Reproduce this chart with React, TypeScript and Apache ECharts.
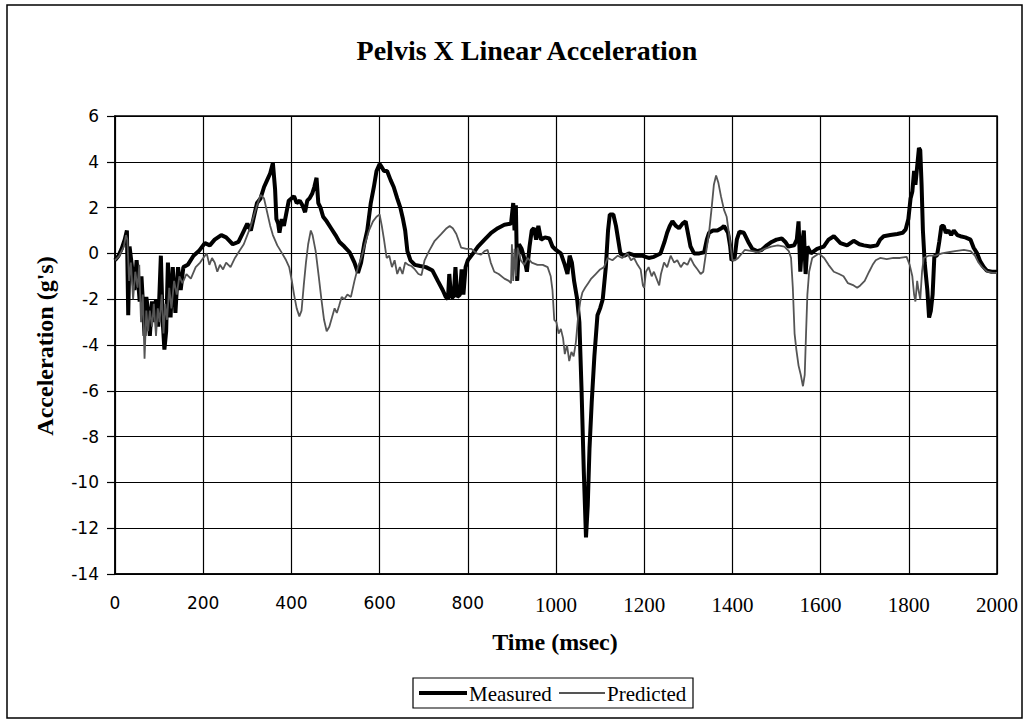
import React, { useEffect, useRef } from "react";
import * as echarts from "echarts";

const xTicks = [0, 200, 400, 600, 800, 1000, 1200, 1400, 1600, 1800, 2000];
const yTicks = [-14, -12, -10, -8, -6, -4, -2, 0, 2, 4, 6];
const seriesNames = ["Measured", "Predicted"];

const measuredT = [
  0, 8, 15, 22, 27, 30, 33, 38, 44, 49, 56, 60, 64, 67, 71, 75, 79, 84, 88, 93, 98, 104, 108, 112, 116, 120,
  126, 131, 137, 143, 149, 155, 165, 178, 190, 204, 215, 226, 241, 252, 267, 280, 290, 300, 308, 315, 322,
  330, 338, 345, 352, 358, 363, 366, 370, 373, 378, 383, 388, 394, 400, 406, 412, 419, 425, 431, 436, 441,
  447, 452, 457, 461, 466, 472, 480, 490, 500, 509, 520, 532, 543, 551, 558, 565, 572, 580, 587, 593, 600,
  604, 610, 617, 625, 632, 640, 647, 653, 658, 663, 670, 680, 692, 705, 720, 732, 743, 750, 755, 758, 762,
  768, 772, 776, 782, 786, 790, 795, 800, 812, 823, 838, 853, 868, 883, 898, 903, 906, 909, 912, 916, 922,
  928, 934, 940, 945, 950, 955, 960, 966, 975, 985, 992, 1000, 1011, 1020, 1026, 1031, 1036, 1041, 1048,
  1053, 1058, 1063, 1068, 1072, 1076, 1081, 1087, 1094, 1100, 1106, 1113, 1118, 1122, 1130, 1136, 1141,
  1146, 1155, 1165, 1180, 1195, 1210, 1222, 1237, 1246, 1252, 1258, 1264, 1272, 1279, 1287, 1294, 1300,
  1305, 1313, 1325, 1336, 1342, 1347, 1356, 1366, 1375, 1381, 1390, 1395, 1398, 1405, 1410, 1416, 1426,
  1436, 1445, 1456, 1466, 1478, 1489, 1500, 1512, 1520, 1527, 1540, 1546, 1550, 1554, 1558, 1562, 1566,
  1570, 1578, 1592, 1607, 1618, 1630, 1645, 1660, 1675, 1688, 1698, 1713, 1728, 1735, 1743, 1758, 1774,
  1786, 1793, 1799, 1804, 1808, 1812, 1815, 1819, 1823, 1826, 1829, 1832, 1836, 1842, 1846, 1850, 1854,
  1858, 1864, 1869, 1874, 1879, 1884, 1890, 1896, 1902, 1910, 1917, 1928, 1940, 1947, 1955, 1962, 1970,
  1977, 1988, 2000,
];
const measuredV = [
  -0.3, -0.1, 0.2, 0.6, 1.0, -2.7, 0.3, -0.5, -1.6, -0.3, -2.1, -1.0, -2.4, -3.6, -1.9, -2.5, -3.6, -2.1,
  -3.0, -2.0, -3.2, -0.1, -2.9, -4.2, -3.4, -0.4, -2.8, -0.6, -2.6, -0.6, -1.6, -0.6, -0.5, -0.1, 0.1, 0.45,
  0.35, 0.6, 0.8, 0.7, 0.4, 0.5, 0.9, 1.3, 1.0, 1.6, 2.2, 2.4, 2.9, 3.2, 3.5, 3.95, 2.8, 1.5, 1.3, 0.9, 1.5,
  1.2, 1.7, 2.3, 2.4, 2.5, 2.2, 2.3, 2.1, 1.8, 2.3, 2.4, 2.6, 2.9, 3.3, 2.2, 2.0, 1.6, 1.4, 1.1, 0.8, 0.5,
  0.3, 0.05, -0.4, -0.85, -0.4, 0.4, 1.0, 2.2, 2.9, 3.6, 3.9, 3.8, 3.6, 3.6, 3.2, 2.9, 2.4, 2.0, 1.5, 1.0,
  0.1, -0.3, -0.5, -0.55, -0.6, -0.75, -1.2, -1.6, -1.9, -2.0, -0.9, -1.9, -1.9, -0.6, -1.9, -1.8, -0.7,
  -1.8, -0.6, -0.3, 0.0, 0.3, 0.6, 0.9, 1.1, 1.25, 1.3, 2.2, 1.0, 2.1, -1.2, 0.4, 0.2, -0.2, -0.8, 0.3, 1.0,
  1.1, 0.6, 1.2, 0.6, 0.7, 0.65, 0.3, 0.15, 0.0, -0.5, -0.9, -0.1, -0.4, -1.2, -2.0, -3.0, -6.0, -9.5,
  -12.4, -11.0, -8.5, -6.5, -4.5, -2.7, -2.4, -2.0, -0.6, 1.0, 1.7, 1.7, 1.2, 0.6, 0.0, -0.1, 0.0, -0.1,
  -0.1, -0.2, -0.15, 0.0, 0.5, 0.9, 1.2, 1.4, 1.2, 1.1, 1.3, 1.4, 0.8, 0.3, 0.0, 0.0, 0.05, 0.6, 0.9, 1.0,
  1.0, 1.1, 1.2, 0.9, 0.3, -0.3, -0.2, 0.6, 0.95, 0.9, 0.5, 0.2, 0.1, 0.15, 0.35, 0.5, 0.6, 0.65, 0.5, 0.3,
  0.35, 0.6, 1.4, -0.8, 0.4, 1.0, -0.9, 0.3, 0.0, 0.2, 0.3, 0.6, 0.75, 0.45, 0.35, 0.55, 0.4, 0.35, 0.3,
  0.35, 0.6, 0.75, 0.8, 0.85, 0.9, 1.05, 1.5, 2.4, 2.7, 3.6, 3.0, 3.8, 4.6, 4.5, 3.0, 1.0, -0.4, -1.6,
  -2.8, -2.5, -1.8, -0.1, -0.1, 0.5, 1.2, 1.2, 0.9, 1.0, 0.8, 1.0, 0.8, 0.75, 0.7, 0.6, 0.25, 0.0, -0.35,
  -0.6, -0.75, -0.8, -0.8,
];

const predictedT = [
  0, 10, 20, 25, 28, 32, 36, 41, 46, 51, 55, 59, 63, 67, 71, 75, 79, 84, 88, 93, 97, 101, 106, 110, 114,
  118, 123, 128, 134, 140, 146, 153, 162, 172, 183, 193, 200, 208, 214, 220, 226, 232, 238, 245, 252, 262,
  272, 282, 292, 300, 308, 315, 322, 330, 338, 345, 352, 358, 368, 379, 388, 395, 401, 406, 412, 418, 423,
  428, 433, 438, 444, 448, 455, 462, 468, 474, 480, 486, 492, 498, 503, 508, 514, 520, 527, 535, 543, 551,
  560, 568, 576, 585, 593, 600, 605, 610, 616, 622, 628, 634, 640, 646, 652, 658, 665, 672, 680, 688, 695,
  702, 712, 725, 740, 752, 759, 766, 774, 785, 797, 808, 820, 830, 838, 845, 852, 860, 870, 883, 893, 898,
  900, 903, 906, 909, 913, 920, 928, 936, 945, 958, 970, 981, 988, 992, 996, 1001, 1006, 1011, 1016, 1020,
  1025, 1030, 1035, 1040, 1045, 1050, 1055, 1060, 1066, 1073, 1080, 1090, 1100, 1109, 1117, 1128, 1140,
  1150, 1162, 1170, 1177, 1185, 1192, 1197, 1200, 1204, 1210, 1217, 1222, 1228, 1234, 1238, 1245, 1252,
  1260, 1268, 1275, 1283, 1290, 1298, 1305, 1313, 1321, 1328, 1334, 1340, 1347, 1353, 1358, 1363, 1368,
  1374, 1381, 1387, 1392, 1396, 1400, 1406, 1413, 1428, 1445, 1458, 1473, 1488, 1503, 1518, 1528, 1533,
  1537, 1541, 1545, 1550, 1555, 1560, 1564, 1567, 1570, 1574, 1581, 1596, 1608, 1618, 1630, 1642, 1652,
  1662, 1675, 1683, 1690, 1700, 1710, 1718, 1725, 1735, 1750, 1765, 1780, 1795, 1802, 1808, 1812, 1815,
  1819, 1822, 1826, 1830, 1834, 1845, 1860, 1875, 1890, 1905, 1925, 1940, 1950, 1958, 1966, 1978, 1990,
  2000,
];
const predictedV = [
  -0.3, -0.1, 0.3, 0.8, 0.6, -1.2, -0.4, -2.0, -0.8, -1.5, -0.5, -3.0, -1.8, -4.6, -2.5, -3.4, -2.5, -3.2,
  -2.2, -3.6, -2.4, -3.0, -1.8, -3.5, -2.2, -2.9, -1.5, -2.4, -1.2, -1.8, -1.0, -1.3, -0.9, -1.1, -0.6,
  -0.4, -0.2, 0.0, -0.5, -0.2, -0.4, -0.8, -0.5, -0.7, -0.4, -0.6, -0.2, 0.1, 0.4, 0.8, 1.2, 1.65, 2.1,
  2.55, 2.4, 1.8, 1.2, 0.8, 0.35, 0.0, -0.3, -0.6, -1.2, -1.8, -2.4, -2.75, -2.5, -1.4, -0.4, 0.4, 1.0, 0.8,
  0.1, -1.0, -2.0, -2.9, -3.4, -3.2, -2.8, -2.4, -2.6, -2.3, -1.9, -2.0, -1.8, -1.9, -1.2, -0.6, -0.1, 0.5,
  1.0, 1.4, 1.6, 1.7, 1.2, 0.6, -0.2, -0.1, -0.6, -0.3, -0.9, -0.6, -0.9, -0.4, -0.5, -0.55, -0.7, -0.9,
  -0.95, -0.3, 0.1, 0.55, 0.85, 1.1, 1.2, 1.1, 0.85, 0.25, 0.2, 0.2, 0.0, -0.05, 0.1, 0.15, -0.4, -0.8,
  -0.9, -1.1, -1.2, -1.3, 0.4, -1.2, 0.2, -1.0, 0.25, -0.3, -0.5, -0.2, -0.4, -0.5, -0.5, -0.6, -1.0, -1.6,
  -2.9, -3.0, -3.5, -3.3, -3.7, -4.4, -4.0, -4.7, -4.3, -4.5, -3.9, -2.8, -2.1, -1.7, -1.5, -1.3, -1.1,
  -0.9, -0.7, -0.6, -0.2, -0.3, -0.1, -0.2, 0.0, -0.3, -0.2, -0.5, -0.7, -1.4, -1.5, -0.8, -0.6, -1.0, -0.8,
  -1.1, -1.4, -0.9, -0.4, -0.6, -0.1, -0.4, -0.3, -0.6, -0.4, -0.5, -0.2, -0.5, -0.7, -0.9, -0.8, 0.0, 0.9,
  2.0, 3.0, 3.4, 3.1, 2.5, 1.9, 1.6, 0.9, 0.3, -0.3, -0.3, -0.2, 0.15, 0.1, 0.05, 0.2, 0.3, 0.35, 0.3, 0.1,
  -0.2, -1.5, -3.5, -4.2, -4.9, -5.3, -5.8, -5.3, -3.5, -1.8, -0.8, -0.2, 0.0, -0.2, -0.5, -0.8, -0.9,
  -1.0, -1.3, -1.4, -1.5, -1.4, -1.2, -0.8, -0.5, -0.3, -0.2, -0.25, -0.2, -0.2, -0.15, -0.5, -1.0, -1.8,
  -2.1, -1.2, -1.6, -2.0, -0.8, -0.2, -0.1, -0.1, 0.0, 0.05, 0.1, 0.15, 0.1, -0.1, -0.4, -0.6, -0.8, -0.85,
  -0.85,
];

const serif = '"Liberation Serif", "Times New Roman", serif';
const sans = '"DejaVu Sans", Verdana, sans-serif';
const measuredColor = "#000000";
const predictedColor = "#555555";

export default function App() {
  const ref = useRef<HTMLDivElement>(null);
  useEffect(() => {
    if (!ref.current) return;
    const chart = echarts.init(ref.current, undefined, { renderer: "svg" });
    const option: any = {
      animation: false,
      backgroundColor: "#ffffff",
      grid: {
        left: 115,
        right: 32,
        top: 116,
        bottom: 147,
        show: true,
        borderColor: "#000",
        borderWidth: 1.5,
        backgroundColor: "transparent",
      },
      xAxis: {
        type: "value",
        min: xTicks[0],
        max: xTicks[xTicks.length - 1],
        interval: 200,
        axisLine: { show: true, onZero: false, lineStyle: { color: "#000", width: 1.5 } },
        axisTick: { show: false },
        splitLine: { show: true, lineStyle: { color: "#000", width: 1.2 } },
        axisLabel: {
          margin: 20,
          formatter: (v: number) => (v < 1000 ? `{s|${v}}` : `{t|${v}}`),
          rich: {
            s: { fontFamily: sans, fontSize: 17, color: "#000" },
            t: { fontFamily: serif, fontSize: 21, color: "#000" },
          },
        },
      },
      yAxis: {
        type: "value",
        min: yTicks[0],
        max: yTicks[yTicks.length - 1],
        interval: 2,
        axisLine: { show: true, onZero: false, lineStyle: { color: "#000", width: 1.5 } },
        axisTick: { show: true, length: 8, lineStyle: { color: "#000", width: 1.2 } },
        splitLine: { show: true, lineStyle: { color: "#000", width: 1.2 } },
        axisLabel: { margin: 16, fontFamily: sans, fontSize: 17, color: "#000" },
      },
      graphic: [
        {
          type: "rect",
          shape: { x: 7, y: 5, width: 1015, height: 713 },
          style: { fill: "none", stroke: "#000", lineWidth: 1.5 },
          silent: true,
          z: -1,
        },
        {
          type: "text",
          x: 527,
          y: 50,
          style: {
            text: "Pelvis X Linear Acceleration",
            font: `bold 28px ${serif}`,
            fill: "#000",
            align: "center",
            verticalAlign: "middle",
          },
        },
        {
          type: "text",
          x: 555,
          y: 642,
          style: {
            text: "Time (msec)",
            font: `bold 24px ${serif}`,
            fill: "#000",
            align: "center",
            verticalAlign: "middle",
          },
        },
        {
          type: "text",
          x: 45,
          y: 346,
          rotation: Math.PI / 2,
          style: {
            text: "Acceleration (g's)",
            font: `bold 24px ${serif}`,
            fill: "#000",
            align: "center",
            verticalAlign: "middle",
          },
        },
        // legend
        {
          type: "rect",
          shape: { x: 413, y: 678, width: 280, height: 30 },
          style: { fill: "#fff", stroke: "#000", lineWidth: 1.2 },
          silent: true,
        },
        {
          type: "line",
          shape: { x1: 419, y1: 693, x2: 467, y2: 693 },
          style: { stroke: measuredColor, lineWidth: 4 },
          silent: true,
        },
        {
          type: "text",
          x: 469,
          y: 694,
          style: {
            text: seriesNames[0],
            font: `21px ${serif}`,
            fill: "#000",
            align: "left",
            verticalAlign: "middle",
          },
        },
        {
          type: "line",
          shape: { x1: 559, y1: 693, x2: 605, y2: 693 },
          style: { stroke: predictedColor, lineWidth: 1.8 },
          silent: true,
        },
        {
          type: "text",
          x: 607,
          y: 694,
          style: {
            text: seriesNames[1],
            font: `21px ${serif}`,
            fill: "#000",
            align: "left",
            verticalAlign: "middle",
          },
        },
      ],
      series: [
        {
          name: seriesNames[0],
          type: "line",
          data: measuredT.map((t, i) => [t, measuredV[i]]),
          symbol: "none",
          showSymbol: false,
          lineStyle: { color: measuredColor, width: 4 },
          itemStyle: { color: measuredColor },
          z: 2,
        },
        {
          name: seriesNames[1],
          type: "line",
          data: predictedT.map((t, i) => [t, predictedV[i]]),
          symbol: "none",
          showSymbol: false,
          lineStyle: { color: predictedColor, width: 1.8 },
          itemStyle: { color: predictedColor },
          z: 3,
        },
      ],
    };
    chart.setOption(option);
    return () => chart.dispose();
  }, []);
  return (
    <div
      ref={ref}
      style={{ position: "fixed", left: 0, top: 0, width: 1029, height: 721, background: "#fff" }}
    />
  );
}
